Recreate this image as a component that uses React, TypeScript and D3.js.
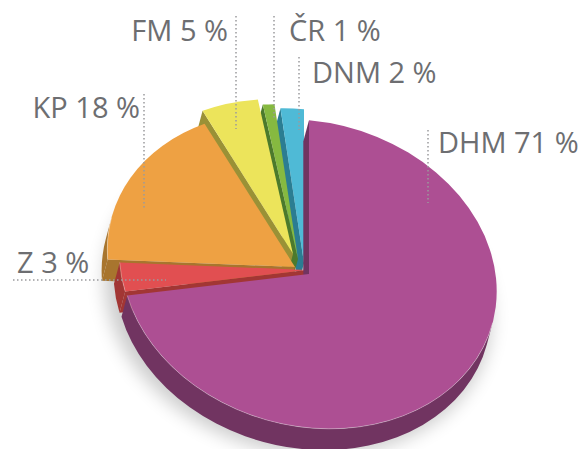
import * as d3 from 'd3';

const categories = ['DHM', 'Z', 'KP', 'FM', 'ČR', 'DNM'];
const shares = [71, 3, 18, 5, 1, 2];

const width = 579;
const height = 449;

// pie geometry (ellipse in a tilted, slightly rotated frame)
const cx = 309;
const cy = 272;
const rx = 190;
const ry = 152;
const tilt = 15; // degrees the whole disc is turned clockwise
const depth = 22;
const startOffset = (-12.1 * Math.PI) / 180;

const topColor: Record<string, string> = {
  DHM: '#ad4f93',
  Z: '#e14f51',
  KP: '#eea143',
  FM: '#ece45b',
  'ČR': '#86b940',
  DNM: '#4fbad6',
};
const wallColor: Record<string, string> = {
  DHM: '#713461',
  Z: '#a23634',
  KP: '#a8752e',
  FM: '#9a9136',
  'ČR': '#4c7a2c',
  DNM: '#2b7d92',
};
// how far each slice is pulled out of the pie, in screen pixels
const explode: Record<string, [number, number]> = {
  DHM: [0, 2],
  Z: [-2, -2],
  KP: [-14, -5],
  FM: [-16, -18],
  'ČR': [-11, -13],
  DNM: [-5, -9],
};

const labelLayout: Record<string, { x: number; y: number; anchor: string; line: number[] }> = {
  DHM: { x: 438, y: 153, anchor: 'start', line: [428, 130, 428, 203] },
  DNM: { x: 312, y: 83, anchor: 'start', line: [299, 57, 299, 130] },
  'ČR': { x: 289, y: 41, anchor: 'start', line: [274, 16, 274, 120] },
  FM: { x: 228, y: 41, anchor: 'end', line: [236, 16, 236, 129] },
  KP: { x: 140, y: 118, anchor: 'end', line: [144, 94, 144, 208] },
  Z: { x: 17, y: 273, anchor: 'start', line: [13, 280, 166, 280] },
};

const pt = (a: number, dy = 0) =>
  `${(rx * Math.sin(a)).toFixed(2)},${(-ry * Math.cos(a) + dy).toFixed(2)}`;

const App = () => {
  const arcs = d3
    .pie<number>()
    .sort(null)
    .startAngle(startOffset)
    .endAngle(startOffset + 2 * Math.PI)(shares);

  const slices = arcs.map((arc, i) => {
    const name = categories[i];
    const s = arc.startAngle;
    const e = arc.endAngle;
    const mid = (s + e) / 2;
    const large = e - s > Math.PI ? 1 : 0;
    const top = `M0,0L${pt(s)}A${rx},${ry} 0 ${large} 1 ${pt(e)}Z`;

    const walls: string[] = [];
    // radial walls, only those turned toward the viewer
    const mx = Math.sin(mid);
    const my = -Math.cos(mid);
    [s, e].forEach((t) => {
      const ex = Math.sin(t);
      const ey = -Math.cos(t);
      const crossD = ex * depth;
      const crossM = ex * my - ey * mx;
      if (Math.sign(crossD) !== Math.sign(crossM)) {
        walls.push(`M0,0L${pt(t)}L${pt(t, depth)}L0,${depth}Z`);
      }
    });
    // outer wall on the front half
    const a = Math.max(s, Math.PI / 2);
    const b = Math.min(e, (3 * Math.PI) / 2);
    let rim = '';
    if (a < b) {
      walls.push(
        `M${pt(a)}A${rx},${ry} 0 0 1 ${pt(b)}L${pt(b, depth)}A${rx},${ry} 0 0 0 ${pt(a, depth)}Z`,
      );
      rim = `M${pt(a)}A${rx},${ry} 0 0 1 ${pt(b)}`;
    }
    return { name, top, walls, rim };
  });

  const drawOrder = [...slices].reverse();

  return (
    <svg width={width} height={height} style={{ position: 'absolute', left: 0, top: 0 }}>
      <defs>
        <filter id="shadow" x="-30%" y="-30%" width="160%" height="160%">
          <feGaussianBlur stdDeviation="9" />
        </filter>
      </defs>
      <rect width={width} height={height} fill="#fff" />
      <g transform={`translate(${cx},${cy}) rotate(${tilt})`}>
        <ellipse
          cx={-4}
          cy={depth + 6}
          rx={rx + 6}
          ry={ry + 2}
          fill="#000"
          opacity={0.2}
          filter="url(#shadow)"
        />
      </g>
      {drawOrder.map((sl) => {
        const [dx, dy] = explode[sl.name];
        return (
          <g key={sl.name} transform={`translate(${cx + dx},${cy + dy}) rotate(${tilt})`}>
            {sl.walls.map((w, j) => (
              <path key={j} d={w} fill={wallColor[sl.name]} />
            ))}
            <path d={sl.top} fill={topColor[sl.name]} />
            {sl.rim && <path d={sl.rim} fill="none" stroke="#fff" strokeOpacity={0.35} strokeWidth={0.8} />}
          </g>
        );
      })}
      <g stroke="#9a9b9d" strokeWidth={1.5} strokeDasharray="1.5 2.5">
        {categories.map((c) => {
          const l = labelLayout[c].line;
          return <line key={c} x1={l[0]} y1={l[1]} x2={l[2]} y2={l[3]} />;
        })}
      </g>
      <g fontFamily="'Open Sans', sans-serif" fontSize={29} fill="#6d6e71">
        {categories.map((c, i) => (
          <text key={c} x={labelLayout[c].x} y={labelLayout[c].y} textAnchor={labelLayout[c].anchor}>
            {`${c} ${shares[i]} %`}
          </text>
        ))}
      </g>
    </svg>
  );
};

export default App;
